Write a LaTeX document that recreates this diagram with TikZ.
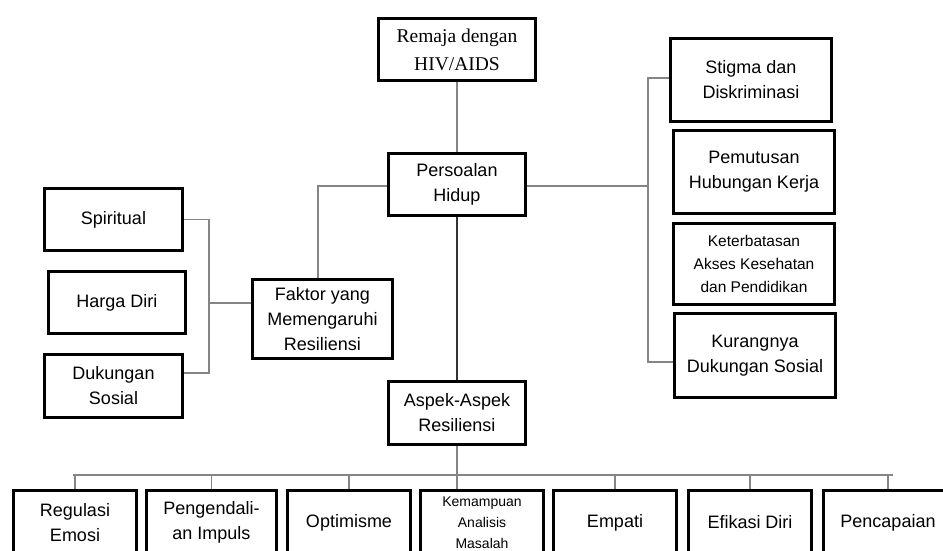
\documentclass[tikz,border=0pt]{standalone}
\usepackage{fontspec}
\setmainfont{Liberation Sans}
\newfontfamily\timesfont{Liberation Serif}
\begin{document}
\begin{tikzpicture}[x=1pt,y=-1pt,
  box/.style={draw=black,line width=3pt,fill=white,inner sep=0pt,align=center,
    font=\fontsize{18}{25}\selectfont},
  conn/.style={draw=black!48,line width=1.1pt},
  mainconn/.style={draw=black!80,line width=1.4pt}]
\useasboundingbox (0,0) rectangle (943,551);
\clip (0,0) rectangle (943,551);
% top / centre column
\node[box,minimum width=157pt,minimum height=62pt,font=\timesfont\fontsize{19.5}{28}\selectfont] (remaja) at (457,49.5) {Remaja dengan\\HIV/AIDS};
\node[box,minimum width=137pt,minimum height=62pt] (persoalan) at (457,184.5) {Persoalan\\Hidup};
\node[box,minimum width=140pt,minimum height=79pt] (faktor) at (322.5,319) {Faktor yang\\Memengaruhi\\Resiliensi};
\node[box,minimum width=137pt,minimum height=63pt] (aspek) at (457,413) {Aspek-Aspek\\Resiliensi};
% right column
\node[box,minimum width=161pt,minimum height=83pt] (stigma) at (751,80) {Stigma dan\\Diskriminasi};
\node[box,minimum width=161pt,minimum height=83pt] (pemutusan) at (754,172) {Pemutusan\\Hubungan Kerja};
\node[box,minimum width=161pt,minimum height=81pt,font=\fontsize{15.5}{23}\selectfont] (keter) at (754,264) {Keterbatasan\\Akses Kesehatan\\dan Pendidikan};
\node[box,minimum width=161pt,minimum height=84pt] (kurang) at (755,355.5) {Kurangnya\\Dukungan Sosial};
% left column
\node[box,minimum width=138pt,minimum height=62pt] (spiritual) at (113.5,219.5) {Spiritual};
\node[box,minimum width=137pt,minimum height=62pt] (harga) at (117,302.5) {Harga Diri};
\node[box,minimum width=138pt,minimum height=63pt] (dukungan) at (113.5,386) {Dukungan\\Sosial};
% bottom row
\node[box,minimum width=123pt,minimum height=64pt] (regulasi) at (75,522.5) {Regulasi\\Emosi};
\node[box,minimum width=130pt,minimum height=64pt] (pengendalian) at (211.5,522.5) {Pengendali-\\an Impuls};
\node[box,minimum width=123pt,minimum height=64pt] (optimisme) at (349,522.5) {Optimisme};
\node[box,minimum width=123pt,minimum height=64pt,font=\fontsize{14}{21}\selectfont] (kemampuan) at (482,522.5) {Kemampuan\\Analisis\\Masalah};
\node[box,minimum width=123pt,minimum height=64pt] (empati) at (615,522.5) {Empati};
\node[box,minimum width=123pt,minimum height=64pt] (efikasi) at (750,522.5) {Efikasi Diri};
\node[box,minimum width=129pt,minimum height=64pt] (pencapaian) at (888,522.5) {Pencapaian};
% junction points
\coordinate (rb) at (648,186);
\coordinate (lb) at (209,303);
\coordinate (bb) at (457,475);
% connectors
\draw[conn] (remaja.south) -- (persoalan.north);
\draw[conn] ([yshift=-1.5pt]persoalan.west) -| ([xshift=-4.5pt]faktor.north);
\draw[mainconn] (persoalan.south) -- (aspek.north);
\draw[conn] ([yshift=-1.5pt]persoalan.east) -- (rb);
\draw[conn] ([yshift=2pt]stigma.west) -| (rb);
\draw[conn] ([yshift=-6.5pt]kurang.west) -| (rb);
\draw[conn] (spiritual.east) -| (lb);
\draw[conn] ([yshift=13pt]dukungan.east) -| (lb);
\draw[conn] (lb) -- (faktor.west |- lb);
\draw[conn] (aspek.south) -- (aspek.south |- kemampuan.north);
\draw[conn] ([xshift=-2pt]regulasi.north |- bb) -- ([xshift=5pt]pencapaian.north |- bb);
\foreach \n in {regulasi,pengendalian,optimisme,empati,efikasi,pencapaian}
  \draw[conn] (\n.north) -- (\n.north |- bb);
\end{tikzpicture}
\end{document}
